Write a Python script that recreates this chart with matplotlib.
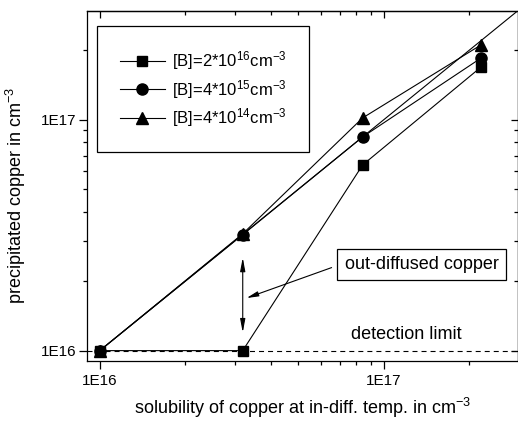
import matplotlib
matplotlib.use("Agg")
import matplotlib.pyplot as plt
from matplotlib.lines import Line2D
from matplotlib.ticker import LogLocator, FuncFormatter, NullFormatter
import numpy as np

plt.rcParams['font.family'] = ['Liberation Sans', 'DejaVu Sans']
plt.rcParams['mathtext.fontset'] = 'custom'
plt.rcParams['mathtext.rm'] = 'Liberation Sans'
plt.rcParams['mathtext.it'] = 'Liberation Sans:italic'
plt.rcParams['mathtext.bf'] = 'Liberation Sans:bold'
plt.rcParams['mathtext.default'] = 'regular'
plt.rcParams['lines.scale_dashes'] = False

# solubility of copper at in-diffusion temperature (cm^-3)
solubility = [1.0e16, 3.19e16, 8.44e16, 2.20e17]

# precipitated copper (cm^-3) for three boron concentrations
cu_b2e16 = [1.0e16, 1.0e16, 6.38e16, 1.69e17]
cu_b4e15 = [1.0e16, 3.18e16, 8.44e16, 1.85e17]
cu_b4e14 = [1.0e16, 3.21e16, 1.02e17, 2.11e17]

series_labels = [r'[B]=2*10$^{16}$cm$^{-3}$',
                 r'[B]=4*10$^{15}$cm$^{-3}$',
                 r'[B]=4*10$^{14}$cm$^{-3}$']
series_markers = ['s', 'o', '^']
series_sizes = [7.5, 8, 8.5]

detection_limit = 1.0e16
axis_range = (10 ** 15.955, 10 ** 17.472)

# out-diffused copper: double arrow span and callout
outdiff_x = 3.19e16
outdiff_span = (2.53e16, 1.197e16)
callout_tip = (3.29e16, 1.69e16)
callout_tail = (6.56e16, 2.29e16)
callout_text_pos = (1.36e17, 2.36e16)
detection_text_pos = (1.205e17, 1.17e16)

fig = plt.figure(figsize=(5.18, 4.21), dpi=100)
ax = fig.add_axes([87 / 518, 1 - 361 / 421, 430.5 / 518, 350 / 421])
ax.set_xscale('log')
ax.set_yscale('log')
ax.set_xlim(*axis_range)
ax.set_ylim(*axis_range)

lw = 0.8
for vals, mk, ms in zip([cu_b2e16, cu_b4e15, cu_b4e14], series_markers, series_sizes):
    ax.plot(solubility, vals, color='black', lw=lw, marker=mk, ms=ms,
            markerfacecolor='black', markeredgecolor='black', zorder=3)

# y = x reference line starting at the detection limit
ax.plot([detection_limit, axis_range[1]], [detection_limit, axis_range[1]],
        color='black', lw=lw, zorder=2)

# detection limit
ax.axhline(detection_limit, color='black', lw=lw, dashes=(3.6, 2.9), zorder=1)
ax.text(*detection_text_pos, 'detection limit', fontsize=13, ha='center', va='center')

# out-diffused copper annotation
ax.annotate('', xy=(outdiff_x, outdiff_span[0]), xytext=(outdiff_x, outdiff_span[1]),
            arrowprops=dict(arrowstyle='<|-|>,head_length=0.8,head_width=0.15',
                            color='black', lw=lw, shrinkA=0, shrinkB=0))
ax.annotate('', xy=callout_tip, xytext=callout_tail,
            arrowprops=dict(arrowstyle='-|>,head_length=0.7,head_width=0.15',
                            color='black', lw=lw, shrinkA=0, shrinkB=0))
ax.text(*callout_text_pos, 'out-diffused copper', fontsize=13, ha='center', va='center',
        bbox=dict(boxstyle='square,pad=0.4', facecolor='white', edgecolor='black', lw=0.9))

# ticks
fmt = FuncFormatter(lambda v, p: '1E%d' % round(np.log10(v)))
for axis in (ax.xaxis, ax.yaxis):
    axis.set_major_locator(LogLocator(base=10, numticks=10))
    axis.set_minor_locator(LogLocator(base=10, subs=np.arange(2, 10), numticks=20))
    axis.set_major_formatter(fmt)
    axis.set_minor_formatter(NullFormatter())
ax.tick_params(which='both', direction='out', top=False, right=False, width=0.9, labelsize=11)
ax.tick_params(which='major', length=5.5)
ax.tick_params(which='minor', length=3)
ax.tick_params(axis='x', which='major', pad=4)
ax.tick_params(axis='y', which='major', pad=2)

secx = ax.secondary_xaxis('top')
secy = ax.secondary_yaxis('right')
for sec, axis in ((secx, secx.xaxis), (secy, secy.yaxis)):
    axis.set_major_locator(LogLocator(base=10, numticks=10))
    axis.set_minor_locator(LogLocator(base=10, subs=np.arange(2, 10), numticks=20))
    axis.set_major_formatter(NullFormatter())
    axis.set_minor_formatter(NullFormatter())
    sec.tick_params(which='both', direction='in', width=0.9)
    sec.tick_params(which='major', length=5)
    sec.tick_params(which='minor', length=3)

for sp in list(ax.spines.values()) + list(secx.spines.values()) + list(secy.spines.values()):
    sp.set_linewidth(0.9)

ax.set_xlabel(r'solubility of copper at in-diff. temp. in cm$^{-3}$', fontsize=13)
ax.set_ylabel(r'precipitated copper in cm$^{-3}$', fontsize=13)
ax.xaxis.set_label_coords(0.5, -0.1)
ax.yaxis.set_label_coords(-0.137, 0.474)

handles = [Line2D([], [], color='black', lw=lw, marker=mk, ms=ms, markerfacecolor='black')
           for mk, ms in zip(series_markers, series_sizes)]
leg = ax.legend(handles, series_labels, loc='upper left', bbox_to_anchor=(0.0232, 0.957),
                borderaxespad=0, fontsize=12, handlelength=2.7, handletextpad=0.4,
                labelspacing=0.35, borderpad=1.38, fancybox=False, framealpha=1,
                edgecolor='black')
leg.get_frame().set_linewidth(0.9)

fig.savefig('out.png', dpi=100)
